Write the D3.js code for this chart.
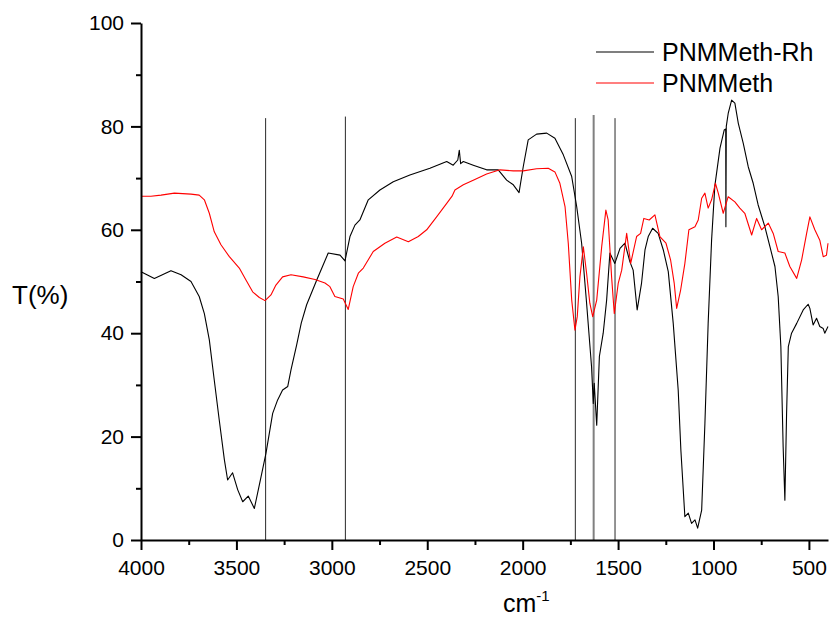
<!DOCTYPE html>
<html>
<head>
<meta charset="utf-8">
<script src="https://cdn.jsdelivr.net/npm/d3@7"></script>
<style>
  body { margin: 0; background: #fff; }
  text { font-family: "Liberation Sans", Arial, sans-serif; }
</style>
</head>
<body>
<svg width="831" height="619"></svg>
<script>
// spectra: [wavenumber cm-1, T %]
var rhSeries = [[4000,51.9],[3930,50.6],[3843,52.1],[3790,51.3],[3738,50.0],[3695,47.1],[3668,43.8],[3642,38.7],[3616,30.9],[3590,23.2],[3563,15.5],[3546,11.6],[3520,13.0],[3493,9.7],[3467,7.4],[3438,8.5],[3406,6.1],[3371,12.2],[3345,16.8],[3310,24.5],[3284,27.1],[3258,29.0],[3231,29.7],[3214,32.9],[3184,37.8],[3160,42.0],[3132,45.5],[3079,50.3],[3019,55.5],[2957,55.1],[2931,54.0],[2905,58.7],[2879,60.9],[2853,61.9],[2809,65.8],[2748,67.7],[2678,69.3],[2591,70.6],[2486,71.9],[2398,73.2],[2364,72.5],[2340,73.5],[2332,75.4],[2325,72.8],[2311,73.2],[2259,72.5],[2189,71.6],[2128,71.6],[2084,69.6],[2049,68.7],[2019,67.2],[1997,72.2],[1971,77.4],[1927,78.5],[1874,78.7],[1831,77.7],[1787,74.5],[1743,70.3],[1717,64.5],[1691,57.4],[1665,45.8],[1639,33.5],[1630,26.4],[1625,30.3],[1612,22.2],[1598,35.5],[1578,40.0],[1560,46.4],[1543,55.5],[1517,53.5],[1490,56.4],[1464,57.4],[1438,53.8],[1421,52.2],[1400,44.5],[1377,49.7],[1359,56.1],[1342,58.7],[1319,60.3],[1290,59.3],[1263,56.1],[1237,51.9],[1211,41.9],[1185,29.0],[1171,17.4],[1150,4.5],[1132,5.2],[1115,3.2],[1097,3.9],[1083,2.3],[1062,5.8],[1045,22.6],[1028,41.9],[1010,58.0],[993,68.5],[966,75.8],[944,79.3],[936,79.5],[935,60.6],[933,80.0],[923,82.5],[905,85.1],[888,84.5],[870,80.6],[844,76.7],[818,72.2],[792,69.0],[766,64.8],[731,60.6],[704,56.7],[678,52.9],[661,47.1],[647,37.4],[635,18.0],[626,7.7],[617,24.5],[608,37.4],[591,40.0],[564,41.9],[530,44.5],[504,45.6],[495,44.8],[478,41.6],[460,42.9],[443,41.3],[425,40.9],[417,40.0],[400,41.3]];

var plainSeries = [[4000,66.5],[3948,66.5],[3895,66.7],[3825,67.1],[3738,66.9],[3695,66.7],[3668,65.8],[3642,63.2],[3616,59.6],[3581,57.1],[3537,54.8],[3485,52.6],[3450,50.3],[3415,48.0],[3380,46.9],[3350,46.3],[3319,47.4],[3293,49.3],[3258,50.9],[3214,51.3],[3150,50.9],[3088,50.4],[3036,49.7],[3010,49.0],[2984,47.1],[2940,46.6],[2914,44.6],[2888,49.0],[2861,51.6],[2835,52.6],[2783,55.8],[2722,57.4],[2660,58.6],[2599,57.7],[2547,58.7],[2503,60.0],[2451,62.5],[2398,65.1],[2370,66.5],[2355,67.7],[2311,68.7],[2259,69.6],[2189,70.8],[2119,71.6],[2049,71.4],[1997,71.4],[1927,71.8],[1866,71.9],[1831,71.2],[1805,69.0],[1778,64.5],[1761,57.4],[1743,46.4],[1726,40.6],[1714,43.2],[1700,50.9],[1682,56.7],[1665,51.6],[1648,45.8],[1633,43.2],[1612,46.4],[1586,56.7],[1564,63.8],[1552,61.9],[1534,50.9],[1520,43.8],[1499,49.7],[1481,52.2],[1455,59.3],[1434,53.5],[1403,58.7],[1382,59.3],[1365,62.2],[1337,61.9],[1307,62.9],[1281,58.7],[1249,57.4],[1225,54.2],[1206,49.7],[1193,44.8],[1172,48.4],[1150,53.5],[1129,60.0],[1097,60.6],[1080,61.9],[1062,66.1],[1045,67.1],[1028,64.2],[1010,65.8],[990,69.0],[975,67.1],[949,63.2],[923,66.4],[888,65.4],[862,64.2],[836,63.2],[800,59.0],[774,62.2],[748,60.0],[713,61.3],[687,59.3],[661,55.8],[626,55.5],[600,52.9],[564,50.6],[538,54.2],[512,59.3],[495,62.5],[469,60.0],[443,58.0],[425,54.8],[408,55.1],[400,57.4]];

// marker lines: wavenumber and top value
var markerWn = [3347, 2929, 1724, 1628, 1516];
var markerTop = [81.6, 81.9, 81.6, 82.2, 81.6];

var xTicks = [4000, 3500, 3000, 2500, 2000, 1500, 1000, 500];
var xMinor = [3750, 3250, 2750, 2250, 1750, 1250, 750];
var yTicks = [0, 20, 40, 60, 80, 100];
var yMinor = [10, 30, 50, 70, 90];

var seriesNames = ["PNMMeth-Rh", "PNMMeth"];
var seriesColors = ["#000000", "#ff0000"];

var svg = d3.select("svg");

var x = d3.scaleLinear().domain([4000, 400]).range([141, 828]);
var y = d3.scaleLinear().domain([0, 100]).range([540, 23]);

// marker lines
svg.selectAll(".marker")
  .data(markerWn)
  .join("line")
  .attr("class", "marker")
  .attr("x1", d => x(d)).attr("x2", d => x(d))
  .attr("y1", y(0))
  .attr("y2", (d, i) => y(markerTop[i]))
  .attr("stroke", (d, i) => i == 3 ? "#808080" : "#2a2a2a")
  .attr("stroke-width", (d, i) => i == 3 ? 2 : 1);

var line = d3.line().x(d => x(d[0])).y(d => y(d[1]));

[rhSeries, plainSeries].forEach(function(s, i) {
  svg.append("path")
    .datum(s)
    .attr("d", line)
    .attr("fill", "none")
    .attr("stroke", seriesColors[i])
    .attr("stroke-width", 1.1)
    .attr("stroke-linejoin", "round");
});

// axes
svg.append("g")
  .attr("transform", "translate(0,540)")
  .call(d3.axisBottom(x).tickValues(xTicks).tickFormat(d3.format("d"))
    .tickSize(10).tickSizeOuter(0).tickPadding(10));
svg.append("g")
  .attr("transform", "translate(0,540)")
  .call(d3.axisBottom(x).tickValues(xMinor).tickSize(5).tickSizeOuter(0).tickFormat(""))
  .select(".domain").remove();

svg.append("g")
  .attr("transform", "translate(141,0)")
  .call(d3.axisLeft(y).tickValues(yTicks).tickFormat(d3.format("d"))
    .tickSize(10).tickSizeOuter(0).tickPadding(7));
svg.append("g")
  .attr("transform", "translate(141,0)")
  .call(d3.axisLeft(y).tickValues(yMinor).tickSize(5).tickSizeOuter(0).tickFormat(""))
  .select(".domain").remove();

svg.selectAll(".domain, .tick line").attr("stroke", "#000").attr("stroke-width", 2);
svg.selectAll(".tick text")
  .attr("fill", "#000")
  .style("font-size", "21px")
  .style("font-family", "'Liberation Sans', Arial, sans-serif");

// axis titles
svg.append("text")
  .attr("x", 12).attr("y", 304)
  .style("font-size", "26px")
  .text("T(%)");

var xt = svg.append("text")
  .attr("x", 503).attr("y", 612)
  .style("font-size", "25px");
xt.append("tspan").text("cm");
xt.append("tspan").attr("dy", -11).style("font-size", "15px").text("-1");

// legend
seriesNames.forEach(function(name, i) {
  var ly = 52 + i * 31;
  svg.append("line")
    .attr("x1", 596).attr("x2", 654)
    .attr("y1", ly).attr("y2", ly)
    .attr("stroke", seriesColors[i])
    .attr("stroke-width", 1.2);
  svg.append("text")
    .attr("x", 662).attr("y", ly + 9)
    .style("font-size", "25px")
    .text(name);
});
</script>
</body>
</html>
